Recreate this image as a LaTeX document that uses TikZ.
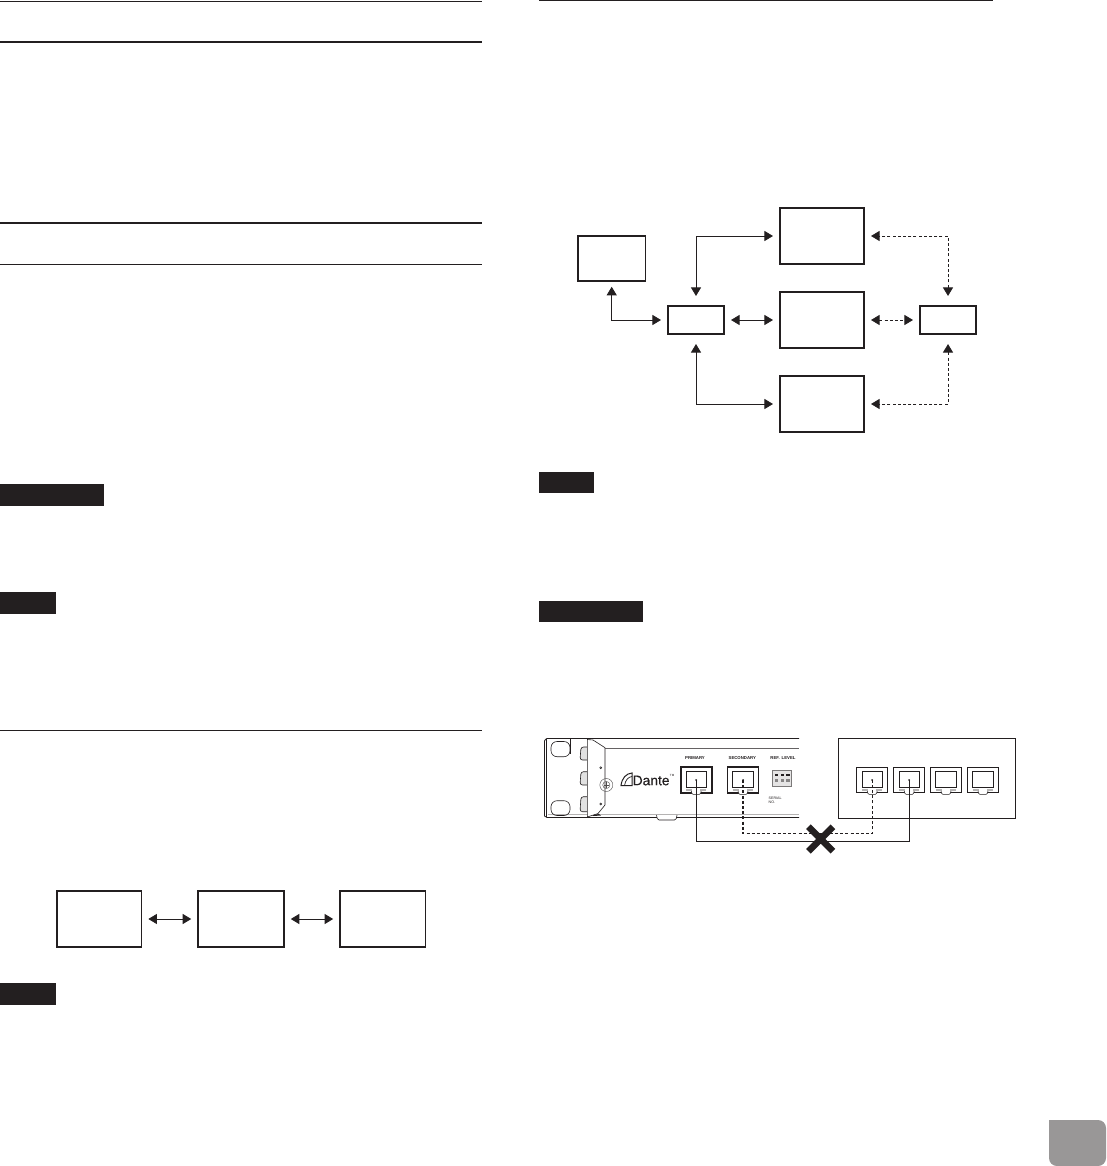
\documentclass[tikz,border=0pt]{standalone}
\usepackage{fontspec}
\setsansfont{Liberation Sans}
\usetikzlibrary{arrows.meta,calc,positioning,shapes.misc}
\definecolor{ink}{HTML}{231F20}
\definecolor{tabgray}{HTML}{999797}
\definecolor{band}{HTML}{B5B3B3}
\tikzset{bigbox/.style={draw=ink,line width=1.6pt,minimum width=84.5pt,minimum height=56.5pt,inner sep=0pt},
hubbox/.style={draw=ink,line width=1.6pt,minimum width=56.5pt,minimum height=28.5pt,inner sep=0pt},
link/.style={{Triangle[length=8.5pt,width=10pt]}-{Triangle[length=8.5pt,width=10pt]},draw=ink,line width=.8pt,shorten <=6pt,shorten >=6pt},
dashlink/.style={link,dash pattern=on 3pt off 2.2pt},
cable/.style={draw=ink,line width=1.1pt},
rjbody/.style={draw=ink,line width=1.6pt,minimum width=31pt,minimum height=26pt,inner sep=0pt,fill=white},
rjbodysw/.style={draw=ink,line width=.7pt,minimum width=31pt,minimum height=25pt,inner sep=0pt,fill=white},
legend/.style={font=\sffamily\bfseries\fontsize{4.3}{5}\selectfont,text=ink,inner sep=0pt},
rjport/.pic={\draw[ink,line width=.8pt] (-10.2,-8.2) rectangle (10.2,7.6);
 \fill[band] (-10,8.8) rectangle (-4,10.8); \fill[band] (4,8.8) rectangle (10,10.8);
 \draw[ink,line width=.5pt,fill=white,rounded corners=1pt] (-5,11) -- (-4,14.4) -- (4,14.4) -- (5,11);
 \draw[ink,line width=1.3pt] (-14.8,12.4) -- (-5,12.4) (5,12.4) -- (14.8,12.4);}}

\begin{document}
\begin{tikzpicture}[x=1pt,y=-1pt]
 \useasboundingbox (0,0) rectangle (1106,1166);
 \fill[white] (0,0) rectangle (1106,1166);
 \foreach \x/\xx/\y/\w in {0/482/1/.9,0/482/42/2,0/482/223/2,0/482/264/1,0/482/730/1,539/993/1/1}{\draw[ink,line width=\w pt] (\x,\y)--(\xx,\y);}
 \foreach \x/\y/\xx/\yy in {0/484/104/506,0/592/56/614,0/983/56/1005,539/472/594/493,539/601/643/622}{\fill[ink] (\x,\y) rectangle (\xx,\yy);}
 \fill[tabgray,rounded corners=8pt] (1049,1120) -- (1049,1166) -- (1106,1166) -- (1106,1120) [sharp corners] -- cycle;

 \node[bigbox] (deva) at (99.3,919) {};
 \node[bigbox,minimum width=86pt] (devb) at (241,919) {};
 \node[bigbox,minimum width=85.5pt] (devc) at (382.7,919) {};
 \draw[link] (deva)--(devb);
 \draw[link] (devb)--(devc);

 \node[bigbox,minimum width=67.5pt,minimum height=45pt] (pcbox) at (611.7,258.5) {};
 \node[hubbox] (hubl) at (696,320) {};
 \node[hubbox] (hubr) at (948,320) {};
 \node[bigbox] (toptop) at (822,236) {};
 \node[bigbox] (topmid) at (822,320) {};
 \node[bigbox] (topbot) at (822,404) {};
 \draw[link,shorten <=5pt] (pcbox.south) |- (hubl.west);
 \draw[link,shorten <=9pt] (hubl.north) |- (toptop.west);
 \draw[link] (hubl)--(topmid);
 \draw[link,shorten <=9pt] (hubl.south) |- (topbot.west);
 \draw[dashlink,shorten <=9pt] (hubr.north) |- (toptop.east);
 \draw[dashlink] (topmid)--(hubr);
 \draw[dashlink,shorten <=9pt] (hubr.south) |- (topbot.east);

 \draw[ink,line width=.8pt] (799,738.5)--(547,738.5) to[rounded corners=1pt] (544.5,740)--(544.5,816)--(547,817.5)--(799,817.5);
 \draw[ink,line width=1.3pt] (546.8,739)--(546.8,817);
 \draw[ink!70,line width=.6pt] (602,748)--(799,748);
 \draw[band,line width=1.8pt] (548,814.5)--(799,814.5);
 \draw[ink,line width=.6pt,fill=white,rounded corners=1.5pt] (656.5,815)--(657.5,820)--(676,820)--(677,815);
 \foreach \y/\yy in {741.5/756.7,800.7/815.5}{\draw[ink,line width=.6pt,rounded corners=6pt] (551,\y) rectangle (570,\yy);}
 \draw[ink,line width=.7pt] (570.7,739)--(570.7,754);
 \foreach \y/\yy in {747/760,771.7/785,796.7/811.7}{\draw[ink,line width=.6pt,fill=band!40,rounded corners=2.5pt] (587,\y)--(581,\y)--(580,\yy)--(587,\yy);}
 \draw[ink,line width=.6pt,fill=white] (587.3,739.5)--(593,740)--(605,747.7)--(605,805)--(598,813.5)--(587.3,817)--cycle;
 \fill[ink] (593,816)--(601,815.5)--(599,814)--(593,815)--cycle;
 \foreach \y in {767.7,804}{\draw[ink,line width=.5pt] (600.7,\y) circle (1pt);}
 \draw[ink!80,line width=.4pt] (606.3,785) circle (6.5pt) circle (3.6pt);
 \draw[ink!80,line width=.4pt] (603.5,785)--(609,785) (606.3,782.2)--(606.3,787.8);
 \draw[ink,line width=1pt] (621,785.5) .. controls (622,778) and (626,773.5) .. (632,773)--(632,785.5)--cycle;
 \draw[ink,line width=.7pt] (624.5,785.5) .. controls (625.5,780) and (628,777) .. (632,776.5);
 \node[anchor=west,font=\sffamily\fontsize{13.8}{14}\selectfont\addfontfeature{FakeBold=.4},text=ink,inner sep=0pt] (logoname) at (632.5,780.5) {Dante};
 \node[anchor=west,font=\sffamily\fontsize{3}{3}\selectfont,text=ink,inner sep=0pt] (logotm) at (logoname.north east) {TM};
 \node[legend] (lblprimary) at (695,758.3) {PRIMARY};
 \node[legend] (lblsecondary) at (742.3,758.3) {SECONDARY};
 \node[legend] (lblref) at (783,758.3) {REF. \,LEVEL};
 \node[legend,anchor=north west,align=left,font=\sffamily\fontsize{3.6}{4.2}\selectfont] (lblserial) at (768.5,796.5) {SERIAL\\NO.};
 \draw[ink!60,line width=.5pt,fill=band!35] (772.7,770.7) rectangle (791.7,786);
 \foreach \x in {775,780.6,786.2}{\fill[ink] (\x,773.5) rectangle +(3.4,2.6); \fill[ink!55] (\x,779) rectangle +(3.4,3.4);}
 \draw[ink,line width=.7pt] (838.3,738.7) rectangle (1015.3,818.3);

 \foreach \nm/\cx/\kind in {primary/696.2/rjbody,secondary/743/rjbody,swa/872.2/rjbodysw,swb/909.2/rjbodysw,swc/946/rjbodysw,swd/983/rjbodysw}{\node[\kind] (\nm) at (\cx,780) {}; \pic at (\nm.center) {rjport};}
 \coordinate (solidrun) at (820,841.2);
 \coordinate (dashrun) at (820,833.7);
 \draw[cable] (primary.center) |- (solidrun) -| (swb.center);
 \draw[cable,dash pattern=on 3pt off 2.2pt] (secondary.center) |- (dashrun) -| (swa.center);
 \foreach \nm in {primary,secondary,swa,swb}{\fill[ink] (\nm.center) circle (1pt);}
 \node[cross out,draw=ink,line width=6.5pt,minimum size=18pt,inner sep=0pt] (nolink) at (820.7,839) {};
\end{tikzpicture}
\end{document}
